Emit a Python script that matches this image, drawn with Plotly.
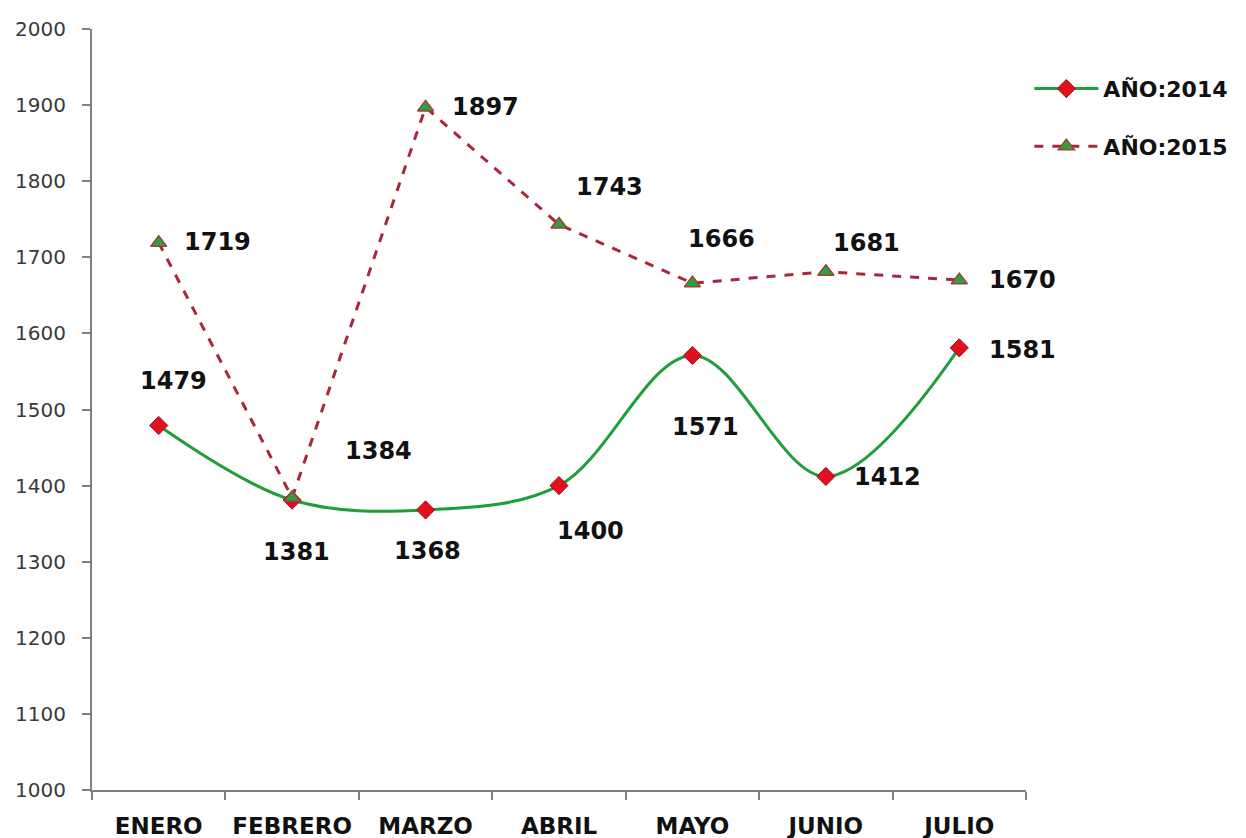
import plotly.graph_objects as go

months = ["ENERO", "FEBRERO", "MARZO", "ABRIL", "MAYO", "JUNIO", "JULIO"]
y2014 = [1479, 1381, 1368, 1400, 1571, 1412, 1581]
y2015 = [1719, 1384, 1897, 1743, 1666, 1681, 1670]
y_ticks = [1000, 1100, 1200, 1300, 1400, 1500, 1600, 1700, 1800, 1900, 2000]

# label offsets in pixels (dx, dy up)
off2014 = [(15, 44), (4, -52), (2, -41), (31, -45), (13, -72), (62, -1), (63, -2)]
off2015 = [(59, 1), (86, 47), (60, 0), (50, 38), (29, 44), (41, 29), (63, 0)]

fig = go.Figure()
fig.add_trace(go.Scatter(
    x=months, y=y2014, name="AÑO:2014", mode="lines+markers",
    line=dict(color="#1f9e3a", width=3, shape="spline", smoothing=1),
    marker=dict(symbol="diamond", size=14, color="#e0101e",
                line=dict(color="#a01020", width=1)),
    legendgroup="a",
))
fig.add_trace(go.Scatter(
    x=months, y=y2015, name="AÑO:2015", mode="lines+markers",
    line=dict(color="#a8283a", width=3, dash="dash"),
    marker=dict(symbol="triangle-up", size=14, color="#2ea040",
                line=dict(color="#a0403a", width=1.5)),
    legendgroup="b",
))

lab_font = dict(family="DejaVu Sans", size=24, color="#111111", weight="bold")
for m, v, (dx, dy) in zip(months, y2014, off2014):
    fig.add_annotation(x=m, y=v, text=str(v), showarrow=False,
                       xshift=dx, yshift=dy, font=lab_font)
for m, v, (dx, dy) in zip(months, y2015, off2015):
    fig.add_annotation(x=m, y=v, text=str(v), showarrow=False,
                       xshift=dx, yshift=dy, font=lab_font)

fig.update_layout(
    width=1238, height=830,
    margin=dict(l=84, r=220, t=21, b=48, autoexpand=False),
    plot_bgcolor="white", paper_bgcolor="white",
    showlegend=True,
    legend=dict(
        xref="container", yref="container", x=0.825, y=0.928,
        xanchor="left", yanchor="top", itemwidth=64,
        font=dict(family="DejaVu Sans", size=22, color="#111111", weight="bold"),
        tracegroupgap=26, bgcolor="rgba(0,0,0,0)",
    ),
    xaxis=dict(
        type="category", showline=True, linecolor="#808080", linewidth=2,
        ticks="outside", tickson="boundaries", ticklen=8, tickcolor="#808080",
        tickwidth=2, showgrid=False, zeroline=False, ticklabelstandoff=14,
        automargin=False, tickangle=0,
        tickfont=dict(family="DejaVu Sans", size=23, color="#111111", weight="bold"),
        range=[-0.5, 6.5],
    ),
    yaxis=dict(
        range=[1000, 2000], tickvals=y_ticks, showline=True,
        linecolor="#808080", linewidth=2, ticks="outside", ticklen=8,
        tickcolor="#808080", tickwidth=2, showgrid=False, zeroline=False,
        ticklabelstandoff=12, automargin=False,
        tickfont=dict(family="DejaVu Sans", size=20, color="#3a3a3a"),
    ),
)

fig.write_html("out.html")
